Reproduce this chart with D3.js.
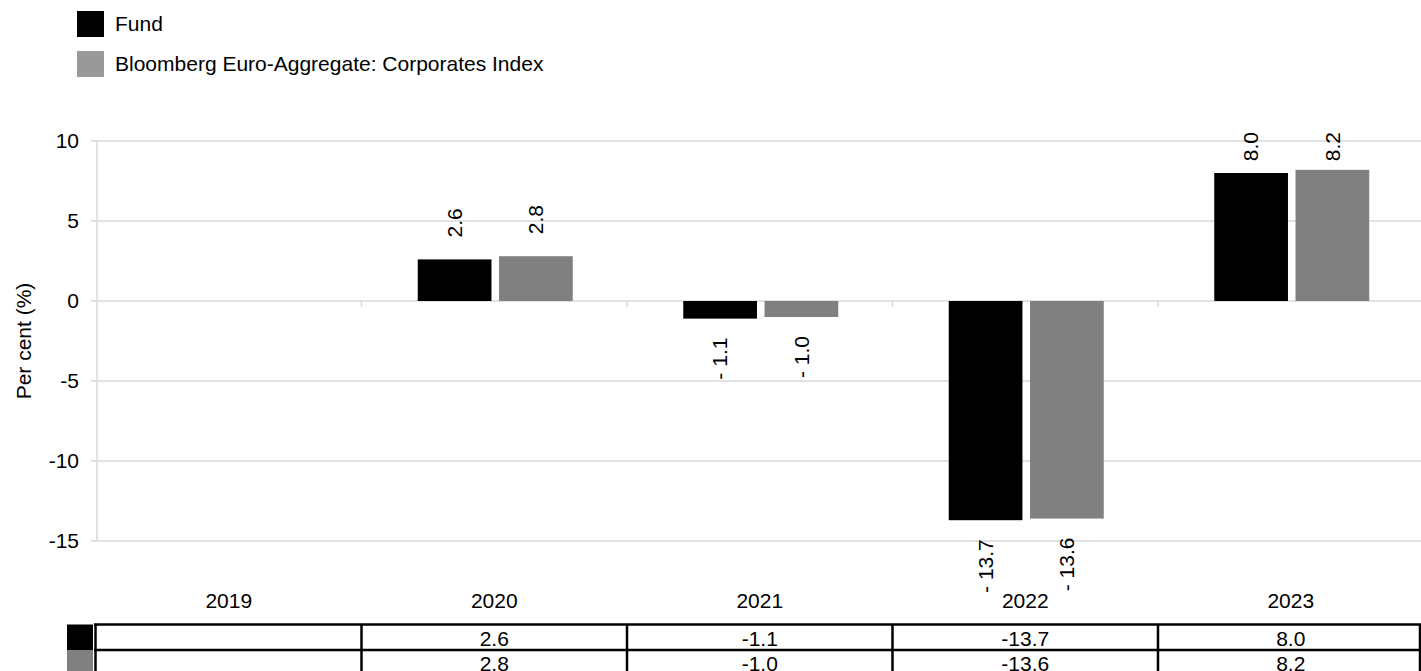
<!DOCTYPE html>
<html>
<head>
<meta charset="utf-8">
<script src="https://cdn.jsdelivr.net/npm/d3@7"></script>
<style>
	body { margin: 0; background: #fff; }
	svg { display: block; font-family: Arial, "Liberation Sans", sans-serif; }
</style>
</head>
<body>
<svg id="svg_main" width="1421" height="671"></svg>
<script>
var years = ["2019", "2020", "2021", "2022", "2023"];
var fund = [null, 2.6, -1.1, -13.7, 8.0];
var bench = [null, 2.8, -1.0, -13.6, 8.2];
var seriesNames = ["Fund", "Bloomberg Euro-Aggregate: Corporates Index"];
var yTicks = [10, 5, 0, -5, -10, -15];

var colors = ["#000000", "#808080"],
	legendColors = ["#000000", "#999999"],
	fontSize = 21;

var svg = d3.select("#svg_main");

var x = d3.scaleBand().domain(years).range([96, 1423.5]),
	y = d3.scaleLinear().domain([-15, 10]).range([541, 141]);

var x1 = d3.scaleBand().domain([0, 1]).range([0, 155]).paddingInner(.093);

var rows = years.map((yr, i) => ({ year: yr, values: [fund[i], bench[i]] }));

// legend
var legend = svg.append("g").attr("class", "legend");
seriesNames.forEach((name, i) => {
	legend.append("rect")
		.attr("x", 77)
		.attr("y", 11 + i * 40)
		.attr("width", 27)
		.attr("height", 26)
		.attr("fill", legendColors[i]);
	legend.append("text")
		.attr("x", 115)
		.attr("y", 31 + i * 40)
		.attr("font-size", `${fontSize}px`)
		.attr("fill", "#000")
		.text(name);
});

// grid + axis
var grid = svg.append("g").attr("class", "grid");
grid.selectAll("line.h")
	.data(yTicks)
	.enter().append("line")
	.attr("class", "h")
	.attr("x1", 91)
	.attr("x2", 1421)
	.attr("y1", d => y(d))
	.attr("y2", d => y(d))
	.attr("stroke", "#d9d9d9")
	.attr("stroke-width", 1.5);
grid.append("line")
	.attr("x1", 97).attr("x2", 97)
	.attr("y1", y(10)).attr("y2", y(-15))
	.attr("stroke", "#d9d9d9")
	.attr("stroke-width", 1.5);
grid.selectAll("line.v")
	.data(years.slice(1))
	.enter().append("line")
	.attr("class", "v")
	.attr("x1", d => x(d)).attr("x2", d => x(d))
	.attr("y1", y(0)).attr("y2", y(0) + 6)
	.attr("stroke", "#d9d9d9")
	.attr("stroke-width", 1.5);

svg.append("g")
	.selectAll("text")
	.data(yTicks)
	.enter().append("text")
	.attr("x", 79)
	.attr("y", d => y(d))
	.attr("dy", "0.35em")
	.attr("text-anchor", "end")
	.attr("font-size", `${fontSize}px`)
	.text(d => d);

svg.append("text")
	.attr("transform", `translate(31, ${(y(10) + y(-15)) / 2}) rotate(-90)`)
	.attr("text-anchor", "middle")
	.attr("font-size", `${fontSize}px`)
	.text("Per cent (%)");

// bars
var groups = svg.append("g").attr("class", "bars")
	.selectAll("g")
	.data(rows)
	.enter().append("g")
	.attr("transform", d => `translate(${x(d.year) + x.bandwidth() / 2 - 77.5 + 1}, 0)`);

groups.selectAll("rect")
	.data(d => d.values.map((v, i) => ({ v: v, i: i })).filter(e => e.v !== null))
	.enter().append("rect")
	.attr("x", d => x1(d.i))
	.attr("width", x1.bandwidth())
	.attr("y", d => y(Math.max(0, d.v)))
	.attr("height", d => Math.abs(y(d.v) - y(0)))
	.attr("fill", d => colors[d.i]);

groups.selectAll("text")
	.data(d => d.values.map((v, i) => ({ v: v, i: i })).filter(e => e.v !== null))
	.enter().append("text")
	.attr("font-size", `${fontSize}px`)
	.attr("dy", "0.35em")
	.text(d => d.v < 0 ? `- ${Math.abs(d.v).toFixed(1)}` : d.v.toFixed(1))
	.each(function(d) {
		var len = this.getComputedTextLength(),
			cx = x1(d.i) + x1.bandwidth() / 2,
			pos;
		if (d.v >= 0) pos = Math.max(y(d.v) - 22, 132 + len);
		else pos = y(d.v) + 19 + len;
		d3.select(this).attr("transform", `translate(${cx}, ${pos}) rotate(-90)`);
	});

// category labels
svg.append("g")
	.selectAll("text")
	.data(years)
	.enter().append("text")
	.attr("x", d => x(d) + x.bandwidth() / 2)
	.attr("y", 608)
	.attr("text-anchor", "middle")
	.attr("font-size", `${fontSize}px`)
	.text(d => d);

// data table
var table = svg.append("g").attr("class", "table"),
	rowTop = 624.5,
	rowH = 25.5;

[fund, bench].forEach((vals, r) => {
	table.append("rect")
		.attr("x", 67)
		.attr("y", rowTop + r * rowH)
		.attr("width", 26)
		.attr("height", rowH)
		.attr("fill", colors[r]);
	table.selectAll(null)
		.data(years)
		.enter().append("text")
		.attr("x", d => x(d) + x.bandwidth() / 2)
		.attr("y", rowTop + r * rowH + 21)
		.attr("text-anchor", "middle")
		.attr("font-size", `${fontSize}px`)
		.text((d, i) => vals[i] === null ? "" : vals[i].toFixed(1));
});

[0, 1].forEach(r => {
	table.append("line")
		.attr("x1", 94).attr("x2", 1421)
		.attr("y1", rowTop + r * rowH).attr("y2", rowTop + r * rowH)
		.attr("stroke", "#000").attr("stroke-width", 2.5);
});
table.selectAll("line.col")
	.data(years)
	.enter().append("line")
	.attr("class", "col")
	.attr("x1", (d, i) => i == 0 ? 95.5 : x(d))
	.attr("x2", (d, i) => i == 0 ? 95.5 : x(d))
	.attr("y1", rowTop).attr("y2", 671)
	.attr("stroke", "#000").attr("stroke-width", 2.5);
table.append("line")
	.attr("x1", 1420).attr("x2", 1420)
	.attr("y1", rowTop).attr("y2", 671)
	.attr("stroke", "#000").attr("stroke-width", 2.5);
</script>
</body>
</html>
